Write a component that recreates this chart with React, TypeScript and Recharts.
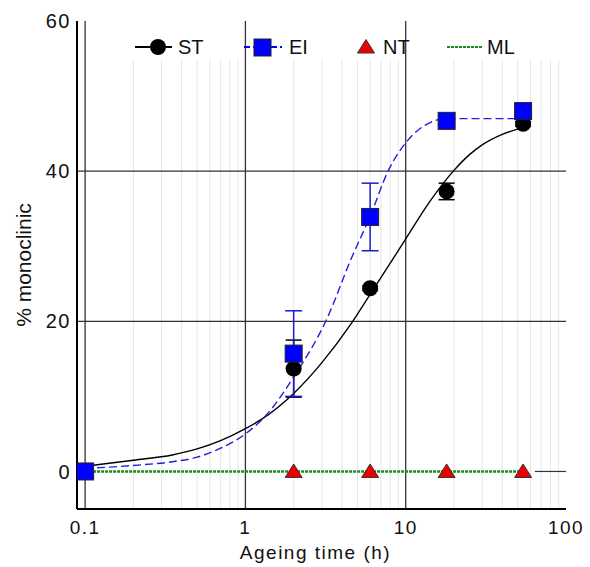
import { ComposedChart, Line, Scatter, XAxis, YAxis, ErrorBar, ReferenceLine, Legend } from 'recharts'

// measured points
const ageingTimes = [0.1, 2, 6, 18, 54]
const stValues = [0, 13.7, 24.4, 37.3, 46.3]
const stErrors = [0, 3.8, 0.3, 1.1, 0.3]
const eiValues = [0, 15.7, 33.9, 46.7, 48.0]
const eiErrors = [0, 5.7, 4.5, 0, 0]
const ntValues = [0, 0, 0, 0, 0]
const mlValues = [0, 0, 0, 0, 0]

// fitted curves
const stFitTimes = [0.1, 0.2, 0.35, 0.5, 0.7, 1, 1.25, 2, 3, 4.5, 6, 9.3, 14.3, 20, 25, 30, 40, 54]
const stFitValues = [0.7, 1.5, 2.2, 3.0, 4.1, 5.7, 6.9, 10.4, 14.5, 19.5, 23.6, 29.9, 36.1, 40.1, 42.2, 43.5, 44.9, 45.8]
const eiFitTimes = [0.1, 0.2, 0.35, 0.5, 0.7, 1, 1.4, 2, 3.25, 4.5, 6, 7.8, 10.3, 14.3, 18, 54]
const eiFitValues = [0.4, 0.8, 1.3, 1.9, 3.1, 5.0, 7.9, 12.6, 20.5, 28.0, 34.0, 40.1, 44.1, 46.5, 47.0, 47.0]

const xTicks = [0.1, 1, 10, 100]
const yTicks = [0, 20, 40, 60]
const majorX = [0.1, 1, 10]
const majorY = [20, 40]
const minorX = [0.2, 0.3, 0.4, 0.5, 0.6, 0.7, 0.8, 0.9, 2, 3, 4, 5, 6, 7, 8, 9, 20, 30, 40, 50, 60, 70, 80, 90]

const FONT = 'Liberation Sans, Arial, Helvetica, sans-serif'

const toPoints = (xs: number[], ys: number[], errs?: number[]) =>
  xs.map((x, i) => ({ x, y: ys[i], err: errs ? errs[i] : 0 }))

const stData = toPoints(ageingTimes, stValues, stErrors)
const eiData = toPoints(ageingTimes, eiValues, eiErrors)
const ntData = toPoints(ageingTimes, ntValues)
const mlData = toPoints(ageingTimes, mlValues)
const stFit = toPoints(stFitTimes, stFitValues)
const eiFit = toPoints(eiFitTimes, eiFitValues)

const Circle = (p: any) => <circle cx={p.cx} cy={p.cy} r={8} fill="#000" />
const Square = (p: any) => (
  <rect x={p.cx - 8.5} y={p.cy - 8.5} width={17} height={17} fill="#0000ff" stroke="#222" strokeWidth={1} />
)
const Triangle = (p: any) => (
  <polygon
    points={`${p.cx},${p.cy - 7.5} ${p.cx + 8.5},${p.cy + 6} ${p.cx - 8.5},${p.cy + 6}`}
    fill="#ee0000"
    stroke="#333"
    strokeWidth={1}
  />
)

const LegendBox = () => {
  const ty = 22
  const txt = { fontFamily: FONT, fontSize: 20, fill: '#111' }
  return (
    <svg width={420} height={32}>
      {/* ST */}
      <line x1={15} x2={52} y1={15} y2={15} stroke="#000" strokeWidth={2} />
      <circle cx={38} cy={15} r={8} fill="#000" />
      <text x={58} y={ty} {...txt}>ST</text>
      {/* EI */}
      <line x1={124} x2={162} y1={15} y2={15} stroke="#0000ff" strokeWidth={2} strokeDasharray="6 3" />
      <rect x={134} y={7} width={17} height={17} fill="#0000ff" stroke="#222" />
      <text x={169} y={ty} {...txt}>EI</text>
      {/* NT */}
      <polygon points="246,7.5 254.5,21 237.5,21" fill="#ee0000" stroke="#333" />
      <text x={263} y={ty} {...txt}>NT</text>
      {/* ML */}
      <line x1={327} x2={363} y1={15} y2={15} stroke="#1c8c1c" strokeWidth={2} strokeDasharray="3 1" />
      <text x={367} y={ty} {...txt}>ML</text>
    </svg>
  )
}

export default function App() {
  const tickStyle = { fontFamily: FONT, fontSize: 19, fill: '#111', letterSpacing: 1.5 }
  return (
    <div style={{ position: 'absolute', left: 0, top: 0, width: 590, height: 567, background: '#fff' }}>
      <ComposedChart width={590} height={567} margin={{ top: 21, right: 24, bottom: 0, left: 0 }}>
        <XAxis
          dataKey="x"
          type="number"
          scale="log"
          domain={[0.089, 100]}
          allowDataOverflow
          ticks={xTicks}
          tickSize={0}
          tickMargin={12}
          height={58}
          tick={tickStyle}
          axisLine={{ stroke: '#000', strokeWidth: 2 }}
          label={{ value: 'Ageing time (h)', position: 'insideBottom', offset: 8, dx: -6, style: { ...tickStyle, fontSize: 19 } }}
        />
        <XAxis xAxisId="top" orientation="top" type="number" height={0} tick={false} tickLine={false} axisLine={{ stroke: '#000', strokeWidth: 2 }} />
        <YAxis
          type="number"
          domain={[-5, 60]}
          allowDataOverflow
          ticks={yTicks}
          tickSize={0}
          tickMargin={6}
          width={77}
          tick={{ ...tickStyle, fontSize: 20 }}
          axisLine={{ stroke: '#000', strokeWidth: 2 }}
          label={{ value: '% monoclinic', angle: -90, position: 'insideLeft', offset: 24, style: { textAnchor: 'middle', fontFamily: FONT, fontSize: 21, fill: '#111' } }}
        />
        <YAxis yAxisId="right" orientation="right" type="number" width={0} tick={false} tickLine={false} axisLine={{ stroke: '#000', strokeWidth: 2 }} />

        {minorX.map(v => (
          <ReferenceLine key={'m' + v} segment={[{ x: v, y: -5 }, { x: v, y: 54.8 }]} stroke="#e6e6e6" strokeWidth={1} />
        ))}
        {majorX.map(v => (
          <ReferenceLine key={'vx' + v} x={v} stroke="#333" strokeWidth={1.3} />
        ))}
        {majorY.map(v => (
          <ReferenceLine key={'hy' + v} y={v} stroke="#333" strokeWidth={1.3} />
        ))}
        <ReferenceLine segment={[{ x: 64, y: 0 }, { x: 100, y: 0 }]} stroke="#333" strokeWidth={1.2} />

        <Line data={stFit} dataKey="y" type="monotone" stroke="#000" strokeWidth={1.4} dot={false} isAnimationActive={false} legendType="none" />
        <Line data={eiFit} dataKey="y" type="monotone" stroke="#2020e0" strokeWidth={1.4} strokeDasharray="8 4" dot={false} isAnimationActive={false} legendType="none" />
        <Line data={mlData} dataKey="y" type="linear" stroke="#1c8c1c" strokeWidth={2.5} strokeDasharray="3 1" dot={false} isAnimationActive={false} legendType="none" />

        <Scatter data={ntData} dataKey="y" shape={Triangle} isAnimationActive={false} />
        <Scatter data={stData} dataKey="y" shape={Circle} isAnimationActive={false}>
          <ErrorBar dataKey="err" direction="y" width={8} stroke="#000" strokeWidth={1.5} />
        </Scatter>
        <Scatter data={eiData} dataKey="y" shape={Square} isAnimationActive={false}>
          <ErrorBar dataKey="err" direction="y" width={8.5} stroke="#1a1ad0" strokeWidth={1.5} />
        </Scatter>

        <Legend
          layout="horizontal"
          verticalAlign="middle"
          align="center"
          wrapperStyle={{ top: 32, left: 120, width: 420, height: 32 }}
          content={LegendBox}
        />
      </ComposedChart>
    </div>
  )
}
